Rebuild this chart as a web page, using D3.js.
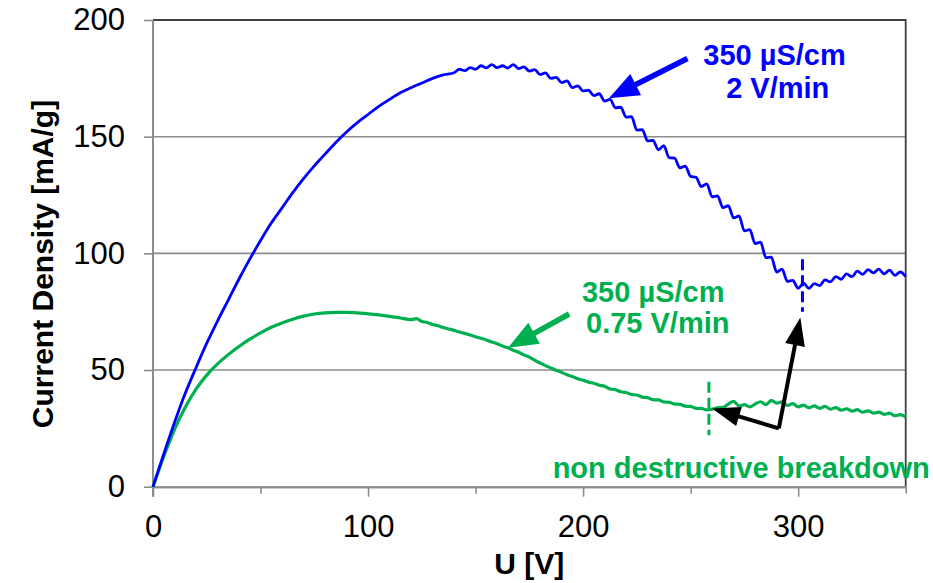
<!DOCTYPE html>
<html>
<head>
<meta charset="utf-8">
<script src="https://cdn.jsdelivr.net/npm/d3@7"></script>
<style>
  body { margin: 0; background: #fff; }
  svg { display: block; font-family: "Liberation Sans", Arial, sans-serif; }
</style>
</head>
<body>
<svg></svg>
<script>
var w = 933, h = 583

// U [V], current density [mA/g]
// 350 µS/cm, 2 V/min
var blue = [
  [0,0],[5,14],[10,27.5],[15,40],[20,51],[25,61.5],[30,71],[35,80],[40,89],[45,97.5],
  [50,105.5],[55,113],[60,119.5],[65,126],[70,132],[75,137.5],[80,142.5],[85,147.5],
  [90,152],[95,156],[100,159.5],[105,163],[110,166],[115,168.8],[120,171],[125,173],
  [130,175],[135,176.5],[140,177.4],[142.5,178.9],[145,178.3],[147.5,179.6],[150,178.9],
  [152.5,180.4],[155,179.5],[157.5,180.9],[160,179.6],[162.5,180.4],[165,179.4],
  [167.5,180.9],[170,179.2],[172.5,179.9],[175,178.1],[177.5,178.7],[180,176.6],
  [182.5,177.3],[185,175.0],[187.5,175.4],[190,173.2],[192.5,173.9],[195,171.0],
  [197.5,171.8],[200,169.6],[202.5,169.9],[205,167.6],[207.5,168.4],[210,165.2],
  [212.5,166.0],[215,162.4],[217.5,162.6],[220,158.4],[222.5,158.6],[225,152.8],
  [227.5,153.0],[230,148.2],[232.5,148.4],[235,144.4],[237.5,146.2],[240,141.0],
  [242.5,140.8],[245,136.6],[247.5,137.4],[250,133.0],[252.5,132.6],[255,128.6],
  [257.5,129.8],[260,124.2],[262.5,124.6],[265,119.6],[267.5,120.4],[270,115.2],
  [272.5,116.0],[275,109.6],[277.5,110.2],[280,104.2],[282.5,104.8],[285,98.2],
  [287.5,98.4],[290,92.0],[292.5,93.2],[295,88.0],[297.5,88.4],[300,85.0],[302.5,87.2],
  [305,85.0],[307.5,87.0],[310,86.2],[312.5,88.6],[315,87.8],[317.5,90.0],[320,88.9],
  [322.5,91.2],[325,90.0],[327.5,92.4],[330,91.0],[332.5,93.0],[335,91.6],[337.5,93.2],
  [340,91.2],[342.5,92.8],[345,90.6],[347.5,92.0],[350,90.0]
]

// 350 µS/cm, 0.75 V/min
var green = [
  [0,0],[5,13],[10,24.5],[15,34],[20,41.8],[25,47.8],[30,52.6],[35,56.6],[40,60.1],[45,63.2],
  [50,65.9],[55,68.3],[60,70.2],[65,71.8],[70,73.1],[75,74],[80,74.5],[85,74.7],[90,74.7],
  [95,74.5],[100,74.1],[105,73.6],[110,73.0],[115,72.3],[120,71.6],[122.5,72.0],
  [125,70.8],[127.5,70.4],[130,69.5],[132.5,69.0],[135,68.2],[137.5,67.6],[140,67.0],
  [142.5,66.3],[145,65.7],[147.5,65.0],[150,64.3],[152.5,63.6],[155,62.9],[157.5,62.0],
  [160,61.3],[162.5,60.3],[165,59.5],[167.5,58.5],[170,57.6],[172.5,56.5],[175,55.5],
  [177.5,54.2],[180,53.0],[182.5,51.9],[185,50.9],[187.5,49.9],[190,49.0],[192.5,48.0],
  [195,47.2],[197.5,46.3],[200,45.6],[202.5,44.8],[205,44.3],[207.5,43.5],[210,43.0],
  [212.5,41.9],[215,41.6],[217.5,40.7],[220,40.4],[222.5,39.5],[225,39.3],[227.5,38.4],
  [230,38.2],[232.5,37.3],[235,37.2],[237.5,36.3],[240,36.2],[242.5,35.4],[245,35.3],
  [247.5,34.5],[250,34.4],[252.5,33.6],[255,33.6],[257.5,32.9],[260,33.2],[262.5,33.8],
  [265,34.0],[267.5,35.4],[270,36.6],[272.5,34.6],[275,35.2],[277.5,34.2],[280,35.4],
  [282.5,36.4],[285,35.2],[287.5,37.0],[290,35.8],[292.5,36.4],[295,34.8],[297.5,35.6],
  [300,34.2],[302.5,35.0],[305,33.8],[307.5,34.6],[310,33.6],[312.5,34.4],[315,33.2],
  [317.5,33.9],[320,32.8],[322.5,33.4],[325,32.4],[327.5,33.0],[330,31.9],[332.5,32.5],
  [335,31.5],[337.5,32.0],[340,31.0],[342.5,31.5],[345,30.4],[347.5,30.9],[350,29.9]
]

var xMajor = [0, 100, 200, 300]
var xMinor = [50, 150, 250, 350]
var yTicks = [0, 50, 100, 150, 200]

// breakdown markers [U, from, to]
var blueBreak = [302, 75, 97.5]
var greenBreak = [258.5, 22, 45]

var blueCol = "#0000ff", greenCol = "#00b050"

var svg = d3.select("svg")
    .attr("width", w)
    .attr("height", h)

var x = d3.scaleLinear().domain([0, 350]).range([153, 905.7])
var y = d3.scaleLinear().domain([0, 200]).range([486.7, 20])

// grid
svg.append("g")
  .selectAll("line")
  .data([50, 100, 150])
  .join("line")
    .attr("x1", x(0)).attr("x2", x(350))
    .attr("y1", d => y(d)).attr("y2", d => y(d))
    .attr("stroke", "#8c8c8c")
    .attr("stroke-width", 1.6)

// top and right border
svg.append("path")
    .attr("d", "M" + x(0) + "," + y(200) + "H" + x(350) + "V" + y(0))
    .attr("fill", "none")
    .attr("stroke", "#404040")
    .attr("stroke-width", 1.8)

// axes
var yAxis = svg.append("g")
    .attr("transform", "translate(" + x(0) + ",0)")
    .call(d3.axisLeft(y).tickValues(yTicks).tickSize(9).tickSizeOuter(0).tickPadding(19))
var xAxis = svg.append("g")
    .attr("transform", "translate(0," + y(0) + ")")
    .call(d3.axisBottom(x).tickValues(xMajor).tickSize(10).tickSizeOuter(0).tickPadding(18))
var xAxisMinor = svg.append("g")
    .attr("transform", "translate(0," + y(0) + ")")
    .call(d3.axisBottom(x).tickValues(xMinor).tickSize(7).tickSizeOuter(0).tickFormat(""))

;[yAxis, xAxis, xAxisMinor].forEach(function(g) {
  g.selectAll("path.domain").attr("stroke", "#8c8c8c").attr("stroke-width", 2)
  g.selectAll(".tick line").attr("stroke", "#8c8c8c").attr("stroke-width", 1.6)
  g.selectAll("text")
    .attr("fill", "#000")
    .style("font-size", "31px")
    .style("font-family", "'Liberation Sans', Arial, sans-serif")
})
// y axis line runs a bit below zero like the major x ticks
yAxis.select("path.domain").attr("d", "M0," + (y(200)) + "V" + (y(0) + 10))

// axis titles
svg.append("text")
    .attr("x", (x(0) + x(350)) / 2)
    .attr("y", 574)
    .attr("text-anchor", "middle")
    .attr("font-weight", "bold")
    .attr("font-size", 30)
    .text("U [V]")
svg.append("text")
    .attr("transform", "translate(53," + 264 + ") rotate(-90)")
    .attr("text-anchor", "middle")
    .attr("font-weight", "bold")
    .attr("font-size", 30)
    .text("Current Density [mA/g]")

// curves
var line = d3.line()
    .x(d => x(d[0]))
    .y(d => y(d[1]))
    .curve(d3.curveMonotoneX)

svg.append("path")
    .datum(green)
    .attr("d", line)
    .attr("fill", "none")
    .attr("stroke", greenCol)
    .attr("stroke-width", 3.2)
    .attr("stroke-linejoin", "round")
svg.append("path")
    .datum(blue)
    .attr("d", line)
    .attr("fill", "none")
    .attr("stroke", blueCol)
    .attr("stroke-width", 2.8)
    .attr("stroke-linejoin", "round")

// breakdown markers
function marker(b, color)
{
  svg.append("line")
    .attr("x1", x(b[0])).attr("x2", x(b[0]))
    .attr("y1", y(b[2])).attr("y2", y(b[1]))
    .attr("stroke", color)
    .attr("stroke-width", 3)
    .attr("stroke-dasharray", "11,5")
}
marker(blueBreak, blueCol)
marker(greenBreak, greenCol)

// arrows: polyline through points (data units), head at the last point
function arrow(pts, color, width, headLen, headHalf)
{
  var p = pts.map(d => [x(d[0]), y(d[1])])
  var tip = p[p.length - 1], prev = p[p.length - 2]
  var dx = tip[0] - prev[0], dy = tip[1] - prev[1]
  var len = Math.sqrt(dx * dx + dy * dy)
  var ux = dx / len, uy = dy / len
  var base = [tip[0] - ux * headLen, tip[1] - uy * headLen]
  var q = p.slice(0, -1).concat([[base[0] + ux * 2, base[1] + uy * 2]])
  svg.append("path")
    .attr("d", d3.line()(q))
    .attr("fill", "none")
    .attr("stroke", color)
    .attr("stroke-width", width)
    .attr("stroke-linejoin", "miter")
  svg.append("path")
    .attr("d", d3.line()([tip,
      [base[0] - uy * headHalf, base[1] + ux * headHalf],
      [base[0] + uy * headHalf, base[1] - ux * headHalf]]) + "Z")
    .attr("fill", color)
}

arrow([[248.5, 183.5], [212, 166.5]], blueCol, 5.5, 30, 12)
arrow([[193.5, 74], [165, 59.5]], greenCol, 5.5, 30, 12)
arrow([[291, 25], [301, 72.5]], "#000", 4, 28, 10)
arrow([[291, 25], [260, 33.5]], "#000", 4, 28, 10)

// labels
var labels = [
  { u: 289, v: 180.7, t: "350 µS/cm", c: blueCol },
  { u: 290.5, v: 166.4, t: "2 V/min", c: blueCol },
  { u: 232.6, v: 79.3, t: "350 µS/cm", c: greenCol },
  { u: 234.7, v: 65.7, t: "0.75 V/min", c: greenCol },
  { u: 273.5, v: 3.7, t: "non destructive breakdown", c: greenCol }
]
svg.append("g")
  .selectAll("text")
  .data(labels)
  .join("text")
    .attr("x", d => x(d.u))
    .attr("y", d => y(d.v))
    .attr("text-anchor", "middle")
    .attr("font-weight", "bold")
    .attr("font-size", 29)
    .attr("fill", d => d.c)
    .text(d => d.t)
</script>
</body>
</html>
